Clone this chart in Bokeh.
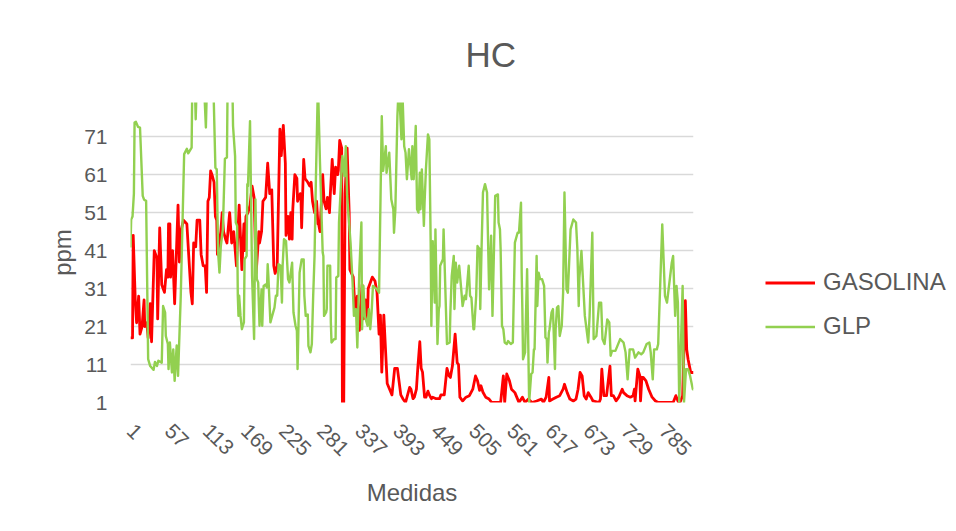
import math
from bokeh.plotting import figure
from bokeh.layouts import row
from bokeh.models import Range1d, FixedTicker, Legend, LegendItem, Title
from bokeh.embed import file_html
from bokeh.resources import INLINE

TITLE = "HC"
X_LABEL = "Medidas"
Y_LABEL = "ppm"
N_MEDIDAS = 830
X_TICKS = [1, 57, 113, 169, 225, 281, 337, 393, 449, 505, 561, 617, 673, 729, 785]
Y_TICKS = [1, 11, 21, 31, 41, 51, 61, 71]

GAS_X = [1, 4, 5, 8, 10, 13, 15, 18, 21, 22, 25, 27, 30, 32, 36, 40, 41, 44, 47, 51, 54, 56, 57, 59, 60, 63, 66, 71, 73, 75, 79, 84, 90, 92, 94, 97, 99, 103, 105, 108, 111, 113, 115, 117, 119, 121, 124, 126, 128, 129, 134, 136, 138,
         141, 143, 147, 150, 153, 157, 161, 165, 168, 169, 171, 174, 177, 180, 183, 186, 190, 191, 194, 196, 200, 203, 206, 209, 212, 214, 217, 221, 223, 226, 229, 230, 233, 235, 237, 239, 240, 243, 246, 247, 251, 252, 253, 256, 258, 262, 265, 267, 269, 272, 275, 277,
         278, 280, 284, 286, 289, 291, 294, 295, 298, 301, 303, 306, 307, 309, 312, 313, 315, 317, 320, 323, 324, 329, 332, 335, 338, 342, 344, 347, 350, 351, 357, 361, 364, 367, 369, 371, 374, 379, 386, 390, 394, 399, 402, 406, 412,
         414, 417, 419, 422, 424, 427, 429, 431, 434, 436, 439, 441, 444, 446, 451, 456, 458, 463, 467, 470, 472, 475, 479, 482, 484, 486, 490, 495, 500, 505, 509, 512, 515, 517, 520, 524, 529, 533, 546, 550,
         552, 555, 559, 562, 567, 571, 573, 578, 582, 587, 592, 599, 606, 609, 613, 617, 618, 623, 628, 633, 638, 640, 644, 648, 653, 657, 660, 663, 666, 669, 672, 675, 679, 682, 691,
         693, 695, 698, 702, 707, 709, 712, 716, 720, 725, 727, 732, 737, 741, 743, 744, 748, 751, 752, 754, 756, 760, 764, 769, 774, 778, 800, 804, 808, 810, 814, 818, 820, 822, 826, 830]
GAS_Y = [18, 18, 45, 28, 22, 29, 19, 21, 28, 21, 22, 18, 27, 17, 41, 39, 23, 47, 32, 30, 36, 34, 48, 48, 34, 41, 27, 53, 38, 46, 49, 48, 30, 27, 43, 42, 49, 49, 40, 37, 37, 30, 54, 55, 62, 61, 59, 50, 49, 40, 46, 51, 46,
         44, 43, 51, 43, 46, 37, 53, 36, 48, 41, 50, 51, 53, 58, 55, 35, 46, 43, 46, 54, 55, 64, 56, 57, 37, 35, 37, 73, 66, 74, 64, 45, 50, 44, 51, 44, 52, 61, 60, 54, 56, 55, 47, 65, 60, 59, 58, 59, 54, 51, 54, 48,
         48, 46, 61, 54, 52, 55, 51, 55, 65, 56, 63, 61, 62, 70, 68, 1, 1, 56, 68, 51, 36, 34, 24, 29, 20, 32, 23, 28, 23, 31, 34, 33, 30, 19, 24, 9, 24, 6, 3, 10, 10, 3, 2, 1, 5,
         4.5, 2, 2.4, 4.5, 10, 17, 10, 9, 2.4, 2.4, 4, 3, 2, 2.4, 2, 2, 3, 3, 10, 8, 7.6, 10.6, 19, 11.5, 11, 2.4, 1.4, 2.4, 2.8, 4.5, 8, 6.7, 4.2, 5.4, 3.7, 2.4, 1.9, 1, 1, 8,
         1, 8.5, 6.7, 4.5, 3.6, 1.9, 1, 2.4, 1, 1.9, 1, 1.4, 1.9, 1, 2.4, 7.6, 1.4, 1.9, 2.4, 2.8, 4.5, 5.8, 3.6, 1.9, 1.4, 1.9, 4.5, 8.9, 8, 2.8, 1.9, 3.6, 2.4, 1.4, 1,
         1.9, 9.8, 2.8, 2.8, 10.6, 2.8, 2.8, 1.4, 2.4, 4.5, 3.6, 2.8, 2.4, 2.8, 4.5, 1.4, 9.8, 8, 1.4, 7.6, 7.6, 6.7, 4.5, 2.4, 1.4, 1, 1, 2.8, 1, 1, 2.8, 27.8, 15, 12.4, 8.9, 8.9]

GLP_X = [1, 2, 4, 6, 7, 9, 12, 15, 19, 21, 24, 27, 30, 35, 37, 40, 42, 47, 49, 52, 53, 56, 57, 59, 62, 64, 66, 69, 71, 75, 80, 84, 86, 91, 92, 95, 97, 99, 103, 108, 112, 114, 120, 123, 126, 128, 130, 132, 134, 137,
         140, 143, 144, 147, 150, 151, 152, 155, 156, 158, 159, 160, 161, 163, 165, 168, 169, 172, 173, 174, 177, 180, 183, 185, 187, 189, 191, 194, 195, 197, 200, 202, 203, 204, 207, 209, 213, 215, 217, 219, 222, 224, 225, 227, 230, 233, 235, 239, 241, 244, 246, 247, 250, 253, 256, 257, 259, 262, 263, 266, 268, 270, 272, 274, 277,
         280, 284, 285, 286, 289, 290, 291, 295, 296, 297, 301, 303, 304, 307, 308, 313, 316, 318, 320, 325, 328, 330, 333, 335, 338, 341, 342, 344, 346, 350, 352, 354, 356, 358, 364, 367, 371, 373, 377, 378, 382, 385, 388, 389, 391, 394, 396, 400, 401, 404, 406, 408, 411, 415,
         416, 418, 421, 423, 425, 427, 428, 430, 433, 434, 436, 439, 441, 443, 444, 446, 449, 450, 453, 455, 456, 457, 461, 462, 467, 471, 472, 474, 477, 478, 480, 482, 485, 488, 490, 493, 495, 499, 501, 503, 506, 507, 510, 512, 515, 516, 518, 520, 523, 526, 529, 532, 534, 538, 542, 543, 545, 546, 548,
         550, 552, 555, 557, 561, 564, 567, 571, 573, 576, 577, 578, 579, 582, 585, 588, 591, 593, 595, 596, 599, 600, 602, 604, 607, 610, 612, 614, 615, 617, 618, 621, 623, 626, 627, 629, 631, 633, 636, 638, 640, 643, 645, 649, 653, 657, 659, 661, 662, 665, 670, 675, 677, 681, 683, 687, 691,
         694, 696, 699, 703, 706, 708, 710, 715, 722, 727, 730, 733, 736, 741, 744, 749, 753, 756, 761, 765, 767, 770, 772, 776, 778, 781, 784, 788, 791, 798, 800, 803, 805, 807, 809, 814, 816, 819, 822, 825, 829, 830]
GLP_Y = [41.8, 49.2, 50, 56, 74.7, 74.9, 73.6, 73.4, 55.4, 54.4, 54.1, 12.4, 10.6, 9.6, 11.7, 10.6, 12, 11.5, 26.4, 24.7, 18.5, 16.4, 9.8, 16.8, 8.9, 15, 6.7, 16, 8, 29, 66.4, 67.8, 66.6, 68.1, 85, 90, 75.6, 88, 92, 90, 73.4, 88, 92, 85, 62.8, 62.4, 40.5, 35.2, 42.2, 46.6,
         65.2, 65.5, 85, 90, 88, 85, 73.8, 65.9, 48.4, 47.5, 29.1, 23.8, 29.1, 23.8, 20.3, 22.1, 38.7, 39.6, 58.5, 58, 75.1, 34.3, 17.7, 54.5, 33.5, 32.6, 21.2, 30.8, 21.2, 31.7, 32.1, 31.3, 37.4, 34.3, 22.1, 23.4, 26, 29.1, 29.1, 37.4, 37, 27.3, 37, 44, 43.5, 33.5, 32.6, 37.8, 24.7, 21.2, 19.9, 9.8, 35.2, 38.7, 38.7, 29.1, 23.8, 24.2, 15.9, 14.2, 16.4, 29.1, 39.6, 59.8, 85,
         64.2, 40.5, 39.6, 23.8, 24.7, 25.6, 37, 37, 22.1, 16.8, 17.7, 17.7, 33.9, 34.3, 48.4, 65.9, 60.6, 68.5, 55.4, 43.1, 32.6, 23.8, 25.6, 15.5, 36.1, 48.4, 20.3, 31.7, 23.8, 21.2, 25.6, 20.3, 24.7, 31.7, 30.8, 29.9, 76.4, 62, 68.5, 61.5, 66.8, 54.5, 51.9, 45.7, 51.9, 76.4, 85, 70.3, 85, 68.5, 66.8, 59.8, 67.7, 59.8,
         68.5, 59.8, 73.8, 51.9, 51, 61.5, 51.9, 62.4, 47.5, 53.6, 62.4, 71.6, 70.3, 43.1, 21.2, 43.5, 27.3, 46.6, 16.4, 25.6, 26.4, 37, 38.7, 46.6, 16.4, 16.8, 24.7, 34.3, 39.6, 25.6, 37.8, 32.6, 37, 30.8, 26.4, 29.1, 28.2, 37, 29.1, 28.6, 20.3, 20.3, 29.1, 42.2, 41.4, 25.6, 42.2, 56.3, 58.5, 56.3, 30.8, 44.9, 23.8, 55.4, 55.8, 48.4, 46.6, 41.4, 21.2,
         20.3, 16.8, 16.4, 17.2, 16.4, 16.8, 43.1, 45.7, 45.7, 53.6, 35.2, 25.6, 12.4, 14.2, 36.1, 1, 8.5, 8.9, 15, 15, 39.6, 26.4, 35.2, 33.5, 33.5, 31.7, 18.1, 17.7, 11.5, 19.4, 20.3, 24.7, 25.6, 9.8, 20.3, 26, 26.4, 18.5, 21.2, 29.9, 56.3, 30.8, 29.9, 46.6, 49.2, 48.4, 41.4, 26.4, 33.9, 40.9, 23.8, 16.8, 23.8, 45.7, 17.7, 18.5, 27.3,
         27.3, 17.7, 16.4, 22.9, 22.1, 13.3, 14.6, 14.6, 17.7, 16.8, 14.2, 7.1, 15, 15, 12.8, 14.2, 13.7, 14.2, 16.4, 16.8, 14.2, 7.1, 15, 15, 16.4, 32.1, 47.9, 29.1, 27.3, 37.8, 39.6, 23.8, 31.7, 27.3, 1, 31.7, 1, 9.8, 9.8, 8, 4.5, 4.5]

SERIES = ["GASOLINA", "GLP"]
SERIES_X = [GAS_X, GLP_X]
SERIES_Y = [GAS_Y, GLP_Y]
COLORS = ["#FF0000", "#92D050"]
WIDTHS = [2.8, 2.4]

FONT = "Liberation Sans"
TXT = "#595959"

# ---------- main chart ----------
p = figure(width=703, height=523, output_backend="svg", toolbar_location=None,
           x_range=Range1d(1, N_MEDIDAS), y_range=Range1d(1, 80))
p.min_border_left = 130
p.min_border_right = 10
p.min_border_top = 102
p.min_border_bottom = 121
p.outline_line_color = None
p.background_fill_color = "white"
p.border_fill_color = "white"

for xs, ys, col, w in zip(SERIES_X, SERIES_Y, COLORS, WIDTHS):
    p.line(xs, ys, line_color=col, line_width=w, line_join="round")

p.xgrid.visible = False
p.ygrid.grid_line_color = "#D9D9D9"
p.ygrid.grid_line_width = 1.3
p.yaxis.ticker = FixedTicker(ticks=Y_TICKS)
p.xaxis.ticker = FixedTicker(ticks=X_TICKS)

for ax in (p.xaxis[0], p.yaxis[0]):
    ax.axis_line_color = None
    ax.major_tick_line_color = None
    ax.minor_tick_line_color = None
    ax.major_tick_in = 0
    ax.major_tick_out = 0
    ax.minor_tick_out = 0
    ax.major_label_text_font = FONT
    ax.major_label_text_color = TXT
    ax.major_label_text_font_size = "21px"
    ax.axis_label_text_font = FONT
    ax.axis_label_text_color = TXT
    ax.axis_label_text_font_size = "24px"
    ax.axis_label_text_font_style = "normal"

p.xaxis.axis_label = X_LABEL
p.yaxis.axis_label = Y_LABEL
p.yaxis.major_label_standoff = 23
p.yaxis.axis_label_standoff = 5
p.xaxis.major_label_orientation = -math.pi / 4
p.xaxis.major_label_standoff = 25
p.xaxis.axis_label_standoff = 14

p.title = Title(text=TITLE, align="left", offset=335, standoff=57,
                text_font=FONT, text_font_size="35px", text_color=TXT,
                text_font_style="normal")

# ---------- legend panel (series drawn outside its visible range; only the key shows) ----------
lg = figure(width=245, height=523, output_backend="svg", toolbar_location=None,
            x_range=Range1d(-20, -10), y_range=Range1d(-20, -10), min_border=0)
lg.axis.visible = False
lg.grid.visible = False
lg.outline_line_color = None
lg.border_fill_color = "white"
items = []
for name, xs, ys, col, w in zip(SERIES, SERIES_X, SERIES_Y, COLORS, WIDTHS):
    r = lg.line(xs, ys, line_color=col, line_width=w)
    items.append(LegendItem(label=name, renderers=[r]))

legend = Legend(items=items, location=(62, 62), orientation="vertical")
legend.label_text_font = FONT
legend.label_text_font_size = "24px"
legend.label_text_color = TXT
legend.glyph_width = 50
legend.glyph_height = 27
legend.label_height = 27
legend.label_standoff = 8
legend.spacing = 16
legend.padding = 0
legend.margin = 0
legend.border_line_color = None
legend.background_fill_alpha = 0
lg.add_layout(legend)

layout = row(p, lg)
open("out.html", "w").write(file_html(layout, INLINE))
